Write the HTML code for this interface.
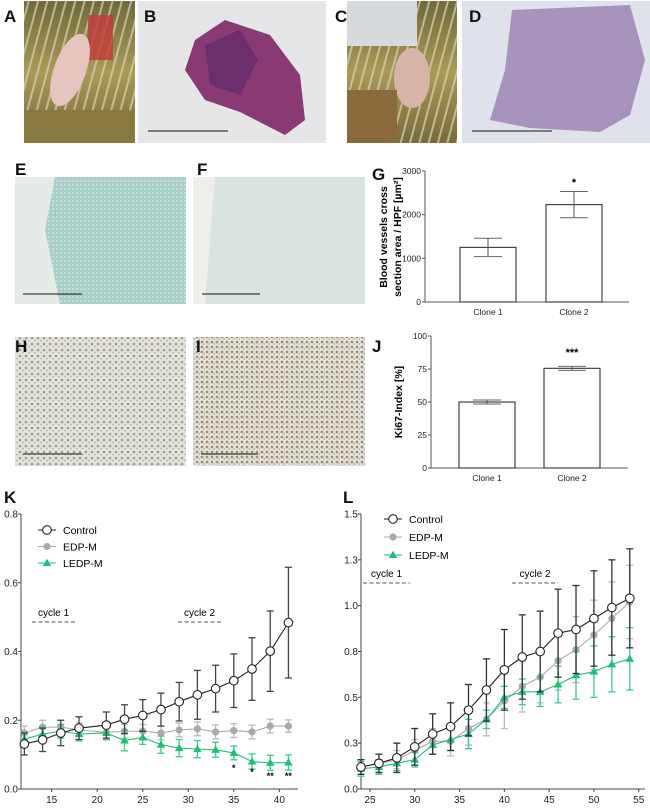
<!DOCTYPE html>
<html><head><meta charset="utf-8"><style>
body{margin:0;background:#fff;width:650px;height:809px;overflow:hidden}
svg{display:block;font-family:"Liberation Sans",Arial,sans-serif}
.pl{font-weight:bold;font-size:17px;fill:#111}
.tk{font-size:10px;fill:#222}
.tks{font-size:8.5px;fill:#222}
</style></head><body>
<svg id="fig" width="650" height="809" viewBox="0 0 650 809">
<defs>
<linearGradient id="cage" x1="0" y1="0" x2="0" y2="1"><stop offset="0" stop-color="#6f6a3a"/><stop offset="0.5" stop-color="#a99a55"/><stop offset="1" stop-color="#7a6a3a"/></linearGradient>
<pattern id="bars" width="9" height="9" patternUnits="userSpaceOnUse" patternTransform="rotate(15)"><rect width="9" height="9" fill="none"/><rect width="2" height="9" fill="#d8d4c0" opacity="0.7"/></pattern>
<pattern id="speck" width="6" height="6" patternUnits="userSpaceOnUse"><rect width="6" height="6" fill="#dde6e4"/><circle cx="2" cy="2" r="1.3" fill="#a8784a" opacity="0.75"/><circle cx="5" cy="4.5" r="0.9" fill="#b58a5c" opacity="0.6"/></pattern>
<pattern id="speck2" width="5" height="5" patternUnits="userSpaceOnUse"><rect width="5" height="5" fill="#dce8ea"/><circle cx="2" cy="2" r="1.4" fill="#a8703c" opacity="0.8"/><circle cx="4.3" cy="4" r="0.9" fill="#b07a48" opacity="0.6"/></pattern>
<pattern id="tealtex" width="4" height="4" patternUnits="userSpaceOnUse"><rect width="4" height="4" fill="#a9d0c8"/><circle cx="1" cy="1" r="1" fill="#cfe3de"/></pattern>
</defs>

<g>
<rect x="24" y="1" width="111" height="142" fill="url(#cage)"/>
<rect x="24" y="1" width="111" height="142" fill="url(#bars)"/>
<rect x="24" y="110" width="111" height="33" fill="#8a7a40"/>
<rect x="88" y="15" width="25" height="45" fill="#c23a3a" opacity="0.8"/>
<ellipse cx="70" cy="70" rx="16" ry="38" fill="#e6c4bf" transform="rotate(20 70 70)"/>
</g>
<g>
<rect x="138" y="1" width="188" height="142" fill="#e4e6e8"/>
<path d="M195 40 L225 20 L270 35 L300 75 L305 120 L285 135 L240 112 L205 100 L185 70 Z" fill="#8a3a72"/>
<path d="M205 45 L240 30 L258 60 L240 95 L210 85 Z" fill="#6c2f6e"/>
<line x1="148" y1="131" x2="228" y2="131" stroke="#111" stroke-width="1"/>
</g>
<g>
<rect x="347" y="1" width="110" height="142" fill="url(#cage)"/>
<rect x="347" y="1" width="110" height="142" fill="url(#bars)"/>
<rect x="347" y="1" width="70" height="45" fill="#d6dadc"/>
<ellipse cx="412" cy="78" rx="18" ry="30" fill="#d8b4a8"/>
<rect x="347" y="90" width="50" height="53" fill="#8a6a3a"/>
</g>
<g>
<rect x="462" y="1" width="188" height="142" fill="#dfe2ea"/>
<path d="M512 10 L630 5 L645 60 L630 115 L600 132 L530 128 L490 120 L505 70 Z" fill="#a893bd"/>
<line x1="472" y1="131" x2="552" y2="131" stroke="#111" stroke-width="1"/>
</g>
<text class="pl" x="4" y="22">A</text>
<text class="pl" x="144" y="22">B</text>
<text class="pl" x="335" y="22">C</text>
<text class="pl" x="469" y="22">D</text>

<g>
<rect x="15" y="177" width="171" height="127" fill="url(#tealtex)"/>
<path d="M15 177 L55 177 L45 230 L60 304 L15 304 Z" fill="#e6ebe8"/>
<line x1="23" y1="294" x2="82" y2="294" stroke="#111" stroke-width="1"/>
</g>
<g>
<rect x="193" y="177" width="172" height="127" fill="#d9e3e0"/>
<path d="M193 177 L215 177 L205 304 L193 304 Z" fill="#eeeeea"/>
<line x1="202" y1="294" x2="260" y2="294" stroke="#111" stroke-width="1"/>
</g>
<text class="pl" x="15" y="175">E</text>
<text class="pl" x="197" y="175">F</text>
<text class="pl" x="372" y="180">G</text>
<g id="chartG"></g>

<rect x="15" y="337" width="171" height="129" fill="url(#speck)"/>
<rect x="193" y="337" width="172" height="129" fill="url(#speck2)"/>
<line x1="23" y1="454" x2="82" y2="454" stroke="#111" stroke-width="1"/>
<line x1="201" y1="454" x2="258" y2="454" stroke="#111" stroke-width="1"/>
<text class="pl" x="15" y="352">H</text>
<text class="pl" x="196" y="352">I</text>
<text class="pl" x="372" y="352">J</text>
<g id="chartJ"></g>

<text class="pl" x="4" y="503">K</text>
<text class="pl" x="343" y="503">L</text>
<g id="chartK"></g>
<g id="chartL"></g>
</svg>
<script>
const barCats = ["Clone 1","Clone 2"];
const gVals = [1250, 2230];
const gErr = [210, 300];
const gTicks = [0,1000,2000,3000];
const jVals = [50, 75.5];
const jErr = [1.5, 1.5];
const jTicks = [0,25,50,75,100];

const kDays = [12,14,16,18,21,23,25,27,29,31,33,35,37,39,41];
const kControl = [0.131,0.143,0.163,0.177,0.186,0.203,0.214,0.231,0.254,0.274,0.292,0.315,0.349,0.401,0.484];
const kControlErr = [0.032,0.034,0.037,0.033,0.038,0.042,0.046,0.048,0.056,0.071,0.068,0.078,0.091,0.117,0.161];
const kEDP = [0.163,0.18,0.18,0.172,0.165,0.168,0.168,0.163,0.172,0.175,0.166,0.17,0.166,0.183,0.183];
const kEDPErr = [0.02,0.02,0.02,0.02,0.02,0.02,0.02,0.02,0.02,0.02,0.02,0.02,0.02,0.02,0.018];
const kLEDP = [0.145,0.16,0.168,0.16,0.163,0.141,0.15,0.129,0.119,0.116,0.114,0.105,0.08,0.076,0.077];
const kLEDPErr = [0.015,0.02,0.02,0.02,0.02,0.03,0.02,0.025,0.025,0.025,0.022,0.02,0.022,0.022,0.022];
const kXTicks = [15,20,25,30,35,40];
const kYTicks = [0,0.2,0.4,0.6,0.8];
const kStars = [[35,"*"],[37,"*"],[39,"**"],[41,"**"]];

const lDays = [24,26,28,30,32,34,36,38,40,42,44,46,48,50,52,54];
const lControl = [0.12,0.14,0.17,0.23,0.30,0.34,0.43,0.54,0.65,0.72,0.75,0.85,0.87,0.93,0.99,1.04];
const lControlErr = [0.04,0.05,0.08,0.10,0.11,0.13,0.14,0.17,0.22,0.23,0.22,0.24,0.24,0.26,0.26,0.27];
const lEDP = [0.12,0.14,0.16,0.21,0.26,0.26,0.33,0.38,0.48,0.56,0.61,0.70,0.76,0.84,0.93,1.02];
const lEDPErr = [0.04,0.05,0.05,0.06,0.07,0.08,0.09,0.09,0.15,0.14,0.14,0.16,0.18,0.19,0.20,0.20];
const lLEDP = [0.11,0.12,0.14,0.16,0.24,0.27,0.30,0.38,0.50,0.53,0.53,0.57,0.62,0.64,0.68,0.71];
const lLEDPErr = [0.04,0.04,0.04,0.04,0.05,0.06,0.08,0.05,0.06,0.07,0.08,0.10,0.13,0.14,0.15,0.17];
const lXTicks = [25,30,35,40,45,50,55];
const lYTicks = [0,0.25,0.5,0.75,1.0,1.25,1.5];

const NS="http://www.w3.org/2000/svg";
function mk(parent,tag,attrs,text){const e=document.createElementNS(NS,tag);for(const k in attrs)e.setAttribute(k,attrs[k]);if(text!==undefined)e.textContent=text;parent.appendChild(e);return e;}

function barChart(gid, vals, errs, ticks, x0, x1, y0, yTop, vmax, barXs, barW, stars, starY, titleLines){
  const g=document.getElementById(gid);
  const y=v=>y0-(v/vmax)*(y0-yTop);
  let ax=mk(g,'line',{x1:x0,y1:yTop,x2:x0,y2:y0,stroke:'#555','stroke-width':1});
  
  
  let bx=mk(g,'line',{x1:x0,y1:y0,x2:x1,y2:y0,stroke:'#555','stroke-width':1});
  
  
  ticks.forEach(t=>{
    mk(g,'line',{x1:x0-3,y1:y(t),x2:x0,y2:y(t),stroke:'#555'});
    let tl=mk(g,'text',{x:x0-4,y:y(t)+3,'text-anchor':'end',class:'tks'},String(t));
    
    
  });
  vals.forEach((v,i)=>{
    const bxp=barXs[i];
    let r=mk(g,'rect',{x:bxp,y:y(v),width:barW,height:y0-y(v),fill:'#fff',stroke:'#444','stroke-width':1.2});
    
    
    const cx=bxp+barW/2;
    mk(g,'line',{x1:cx,y1:y(v+errs[i]),x2:cx,y2:y(v-errs[i]),stroke:'#555','stroke-width':1});
    mk(g,'line',{x1:cx-14,y1:y(v+errs[i]),x2:cx+14,y2:y(v+errs[i]),stroke:'#666','stroke-width':1});
    mk(g,'line',{x1:cx-14,y1:y(v-errs[i]),x2:cx+14,y2:y(v-errs[i]),stroke:'#666','stroke-width':1});
    let cl=mk(g,'text',{x:cx,y:y0+13,'text-anchor':'middle',class:'tks'},barCats[i]);
    
    
  });
  let st=mk(g,'text',{x:barXs[1]+barW/2,y:starY,'text-anchor':'middle','font-size':'11px','font-weight':'bold'},stars);
  
  
  titleLines.forEach((tl,i)=>{
    let t=mk(g,'text',{x:tl[1],y:tl[2],transform:`rotate(-90 ${tl[1]} ${tl[2]})`,'text-anchor':'middle','font-size':'10.5px','font-weight':'bold'},tl[0]);
    
    
  });
}
barChart('chartG',gVals,gErr,gTicks,425,629,302,171,3000,[460,546],56,'*',186,[["Blood vessels cross",387,237],["section area / HPF [µm²]",401,237]]);
barChart('chartJ',jVals,jErr,jTicks,431,628,468,336,100,[459,544],56,'***',356,[["Ki67-Index [%]",402,402]]);

function lineChart(gid, days, series, xd, yd, xr, yr, xticks, yticks, ylab, legend, cycles, stars){
  const g=document.getElementById(gid);
  const X=v=>xr[0]+(v-xd[0])/(xd[1]-xd[0])*(xr[1]-xr[0]);
  const Y=v=>yr[0]-(v-yd[0])/(yd[1]-yd[0])*(yr[0]-yr[1]);
  let ya=mk(g,'line',{x1:xr[0],y1:yr[1],x2:xr[0],y2:yr[0],stroke:'#444'});
  
  
  let xa=mk(g,'line',{x1:xr[0],y1:yr[0],x2:xr[1],y2:yr[0],stroke:'#444'});
  
  
  yticks.forEach(t=>{
    mk(g,'line',{x1:xr[0]-3,y1:Y(t),x2:xr[0],y2:Y(t),stroke:'#444'});
    let l=mk(g,'text',{x:xr[0]-3,y:Y(t)+3.5,'text-anchor':'end',class:'tk'},ylab(t));
    
    
  });
  xticks.forEach(t=>{
    mk(g,'line',{x1:X(t),y1:yr[0],x2:X(t),y2:yr[0]+3,stroke:'#444'});
    let l=mk(g,'text',{x:X(t),y:yr[0]+14,'text-anchor':'middle',class:'tk'},String(t));
    
    
  });
  cycles.forEach(c=>{
    let d=mk(g,'line',{x1:c[1],y1:c[3],x2:c[2],y2:c[3],stroke:'#777','stroke-dasharray':'4,2.5','stroke-width':1.3});
    
    
    let t=mk(g,'text',{x:(c[1]+c[2])/2,y:c[3]-6,'text-anchor':'middle','font-size':'10px'},c[0]);
    
    
  });
  series.forEach(s=>{
    const sg=mk(g,'g',{});
    
    
    s.vals.forEach((v,i)=>{
      const x=X(days[i]);
      mk(sg,'line',{x1:x,y1:Y(v+s.err[i]),x2:x,y2:Y(v-s.err[i]),stroke:s.ecol,'stroke-width':1.3});
      mk(sg,'line',{x1:x-3.5,y1:Y(v+s.err[i]),x2:x+3.5,y2:Y(v+s.err[i]),stroke:s.ecol,'stroke-width':1.3});
      mk(sg,'line',{x1:x-3.5,y1:Y(v-s.err[i]),x2:x+3.5,y2:Y(v-s.err[i]),stroke:s.ecol,'stroke-width':1.3});
    });
    const pts=s.vals.map((v,i)=>X(days[i])+','+Y(v)).join(' ');
    mk(sg,'polyline',{points:pts,fill:'none',stroke:s.col,'stroke-width':1.1});
    s.vals.forEach((v,i)=>{marker(sg,s.shape,X(days[i]),Y(v),s.col,'point');});
  });
  legend.forEach((s,i)=>{
    const ly=legendPos[1]+i*legendPos[2];
    const lx=legendPos[0];
    mk(g,'line',{x1:lx-9,y1:ly,x2:lx+9,y2:ly,stroke:s.col,'stroke-width':1.1});
    marker(g,s.shape,lx,ly,s.col,'legend-marker');
    let t=mk(g,'text',{x:lx+16,y:ly+4,'font-size':'10.5px'},s.name);
    
    
  });
  stars.forEach(st=>{
    let t=mk(g,'text',{x:X(st[0]),y:yr[0]-14+(st[1].length>1?4:0)+(st[0]===35?-4:0),'text-anchor':'middle','font-size':'9px','font-weight':'bold'},st[1]);
    
    
  });
}
let legendPos;
function marker(p,shape,x,y,col,name){
  let m;
  if(shape==='o'){m=mk(p,'circle',{cx:x,cy:y,r:4.3,fill:'#fff',stroke:'#222','stroke-width':1.1});}
  else if(shape==='c'){m=mk(p,'circle',{cx:x,cy:y,r:3.6,fill:col});}
  else {m=mk(p,'polygon',{points:`${x},${y-4.3} ${x+4.3},${y+3} ${x-4.3},${y+3}`,fill:col});}
  
  
}
const kSeries=[
 {name:'Control',vals:kControl,err:kControlErr,col:'#222',ecol:'#444',shape:'o'},
 {name:'EDP-M',vals:kEDP,err:kEDPErr,col:'#aaa',ecol:'#bbb',shape:'c'},
 {name:'LEDP-M',vals:kLEDP,err:kLEDPErr,col:'#1fbf78',ecol:'#3cc98a',shape:'t'}];
legendPos=[47,530,16.5];
lineChart('chartK',kDays,[kSeries[1],kSeries[2],kSeries[0]],[11.63,42.05],[0,0.8],[21,298],[789,514],kXTicks,kYTicks,t=>t.toFixed(1),kSeries,[["cycle 1",32,75,622],["cycle 2",178,221,622]],kStars);
const lSeries=[
 {name:'Control',vals:lControl,err:lControlErr,col:'#222',ecol:'#333',shape:'o'},
 {name:'EDP-M',vals:lEDP,err:lEDPErr,col:'#aaa',ecol:'#bbb',shape:'c'},
 {name:'LEDP-M',vals:lLEDP,err:lLEDPErr,col:'#1fbf78',ecol:'#3cc98a',shape:'t'}];
legendPos=[393,519,18];
lineChart('chartL',lDays,[lSeries[1],lSeries[2],lSeries[0]],[24,55.7],[0,1.5],[361,645],[789,514],lXTicks,lYTicks,t=>t.toFixed(1),lSeries,[["cycle 1",363,410,583],["cycle 2",512,558,583]],[]);
</script>
</body></html>
